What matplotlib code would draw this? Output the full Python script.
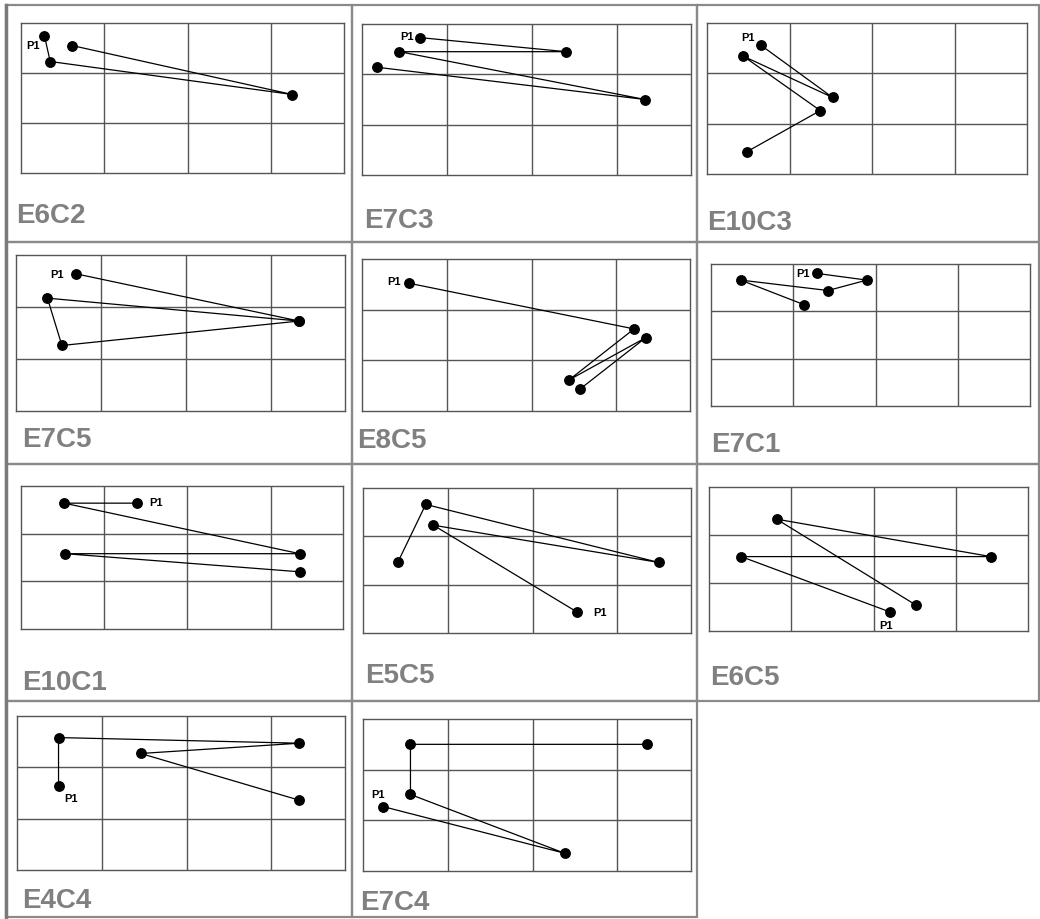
import matplotlib.pyplot as plt
from matplotlib.lines import Line2D
from matplotlib.patches import Rectangle

plt.rcParams['font.family'] = ['Liberation Sans', 'DejaVu Sans']

# panel names and visit paths (grid units: x = column, y = row from top), path starts at P1
names = ['E6C2', 'E7C3', 'E10C3', 'E7C5', 'E8C5', 'E7C1',
         'E10C1', 'E5C5', 'E6C5', 'E4C4', 'E7C4']
path_x = [
    [0.28, 0.35, 3.25, 0.61],
    [0.68, 2.40, 0.44, 3.33, 0.18],
    [0.65, 1.52, 0.44, 1.37, 0.48],
    [0.70, 3.33, 0.37, 0.54, 3.33],
    [0.56, 3.21, 2.44, 3.35, 2.57],
    [1.29, 1.89, 1.42, 0.36, 1.13],
    [1.40, 0.52, 3.35, 0.53, 3.35],
    [2.52, 0.83, 3.49, 0.74, 0.41],
    [2.19, 0.39, 3.42, 0.82, 2.51],
    [0.49, 0.49, 3.33, 1.46, 3.33],
    [0.24, 2.38, 0.56, 0.56, 3.35],
]
path_y = [
    [0.25, 0.77, 1.43, 0.45],
    [0.27, 0.55, 0.55, 1.50, 0.86],
    [0.44, 1.48, 0.66, 1.74, 2.56],
    [0.36, 1.27, 0.83, 1.74, 1.27],
    [0.48, 1.38, 2.39, 1.55, 2.57],
    [0.20, 0.34, 0.56, 0.34, 0.86],
    [0.36, 0.36, 1.42, 1.42, 1.80],
    [2.56, 0.77, 1.54, 0.34, 1.54],
    [2.60, 1.45, 1.45, 0.67, 2.46],
    [1.36, 0.42, 0.53, 0.73, 1.64],
    [1.73, 2.65, 1.49, 0.50, 0.50],
]

W, H = 1040, 920
fig = plt.figure(figsize=(W / 100, H / 100), dpi=100)

# pixel boxes of the grids: left, top, right, bottom
boxes = [(21, 24, 344, 174), (362, 25, 691, 176), (707, 24, 1027, 175),
         (16, 256, 345, 412), (362, 260, 690, 412), (711, 265, 1030, 407),
         (21, 487, 343, 630), (363, 489, 691, 634), (709, 488, 1028, 632),
         (17, 717, 345, 871), (363, 720, 691, 872)]
name_pos = [(16, 223), (364, 228), (707, 230), (22, 447), (357, 448), (711, 452),
            (22, 690), (365, 683), (710, 685), (22, 908), (360, 910)]
p1_off = [(-8, -7), (-9.5, 1), (-9.5, 6), (-13.5, 0), (-11, 2), (-10, 0),
          (13.5, 1), (17, 0), (-2.5, -9.5), (9, -9), (-3.5, 9)]

# panel frames
cols = [6, 352, 697, 1039]
rows = [6, 243, 465, 702, 918]
for i in range(11):
    r, c = divmod(i, 3)
    x0, x1 = cols[c], cols[c + 1]
    y0, y1 = rows[r], rows[r + 1]
    fig.add_artist(Rectangle((x0 / W, 1 - y1 / H), (x1 - x0) / W, (y1 - y0) / H,
                             transform=fig.transFigure, fill=False,
                             edgecolor='#8a8a8a', lw=1.6))
fig.add_artist(Line2D([6 / W, 6 / W], [1 - 6 / H, 0], transform=fig.transFigure,
                      color='#7a7a7a', lw=2.5))

for i in range(11):
    l, t, rr, b = boxes[i]
    ax = fig.add_axes([l / W, 1 - b / H, (rr - l) / W, (b - t) / H])
    ax.set_xlim(0, 3.87)
    ax.set_ylim(3, 0)
    for gx in [1, 2, 3]:
        ax.axvline(gx, color='#555555', lw=1)
    for gy in [1, 2]:
        ax.axhline(gy, color='#555555', lw=1)
    for s in ax.spines.values():
        s.set_color('#555555')
        s.set_linewidth(1)
    ax.set_xticks([])
    ax.set_yticks([])
    ax.plot(path_x[i], path_y[i], color='black', lw=0.9, marker='o',
            markersize=6.8, markerfacecolor='black', markeredgecolor='black')
    ax.annotate('P1', (path_x[i][0], path_y[i][0]), xytext=p1_off[i],
                textcoords='offset points', ha='center', va='center',
                fontsize=8, fontweight='bold', color='black')
    nx_, ny_ = name_pos[i]
    fig.text(nx_ / W, 1 - ny_ / H, names[i], fontsize=20, fontweight='bold',
             color='#808080', ha='left', va='baseline')

fig.savefig('out.png', dpi=100, facecolor='white')
